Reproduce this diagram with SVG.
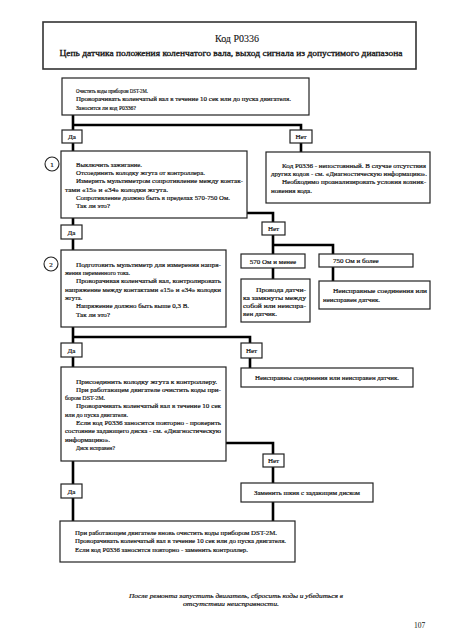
<svg xmlns="http://www.w3.org/2000/svg" width="452" height="640" viewBox="0 0 452 640">
<style>
.box{fill:#fff;stroke:#222;stroke-width:1.2}
.hdr{fill:#fff;stroke:#333;stroke-width:1.6}
.t{font-family:"Liberation Serif","DejaVu Serif",serif;font-size:7px;fill:#111;stroke:#111;stroke-width:0.2}
.m{text-anchor:middle}
.c{stroke:#000;stroke-width:2.6;fill:none}
.cir{fill:#fff;stroke:#222;stroke-width:1.1}
</style>
<rect width="452" height="640" fill="#fff"/>
<g id="connectors">
<path class="c" d="M73,115 V130 M73,125 H301 V130 M73,143 V151 M301,143 V152"/>
<path class="c" d="M73,218 V225 M247,213 H273 V222 M73,239 V250"/>
<path class="c" d="M273,235 V254 M273,245 H333 V254 M273,268 V279 M333,267 V281"/>
<path class="c" d="M73,327 V343 M73,337 H250 V343 M73,357 V367 M250,358 V368"/>
<path class="c" d="M73,461 V484 M73,498 V521 M226,443 H273 V454 M273,467 V483 M273,502 V521"/>
</g>
<g id="header">
<rect class="hdr" x="43" y="22" width="373" height="47"/>
<text class="t m" x="237" y="41.5" style="font-size:10px;stroke-width:0.1" textLength="44" lengthAdjust="spacingAndGlyphs">Код P0336</text>
<text class="t m" x="231" y="56" style="font-size:8.5px;stroke-width:0.3" textLength="343" lengthAdjust="spacingAndGlyphs">Цепь датчика положения коленчатого вала, выход сигнала из допустимого диапазона</text>
</g>
<g id="n1">
<rect class="box" x="62" y="78" width="247" height="37"/>
<text class="t" x="76" y="92.5" textLength="72" lengthAdjust="spacingAndGlyphs">Очистить коды прибором DST-2M.</text>
<text class="t" x="76" y="101" textLength="215" lengthAdjust="spacingAndGlyphs">Проворачивать коленчатый вал в течение 10 сек или до пуска двигателя.</text>
<text class="t" x="76" y="109.5" textLength="60" lengthAdjust="spacingAndGlyphs">Заносится ли код P0336?</text>
</g>
<g id="l1yes"><rect class="box" x="62" y="130" width="20" height="13"/><text class="t m" x="72" y="139">Да</text></g>
<g id="l1no"><rect class="box" x="290" y="130" width="22" height="13"/><text class="t m" x="301" y="139">Нет</text></g>
<g id="n2">
<circle class="cir" cx="52" cy="164" r="7"/>
<text class="t m" x="52" y="166.5">1</text>
<rect class="box" x="61" y="151" width="186" height="67"/>
<text class="t" x="76" y="166.5" textLength="66" lengthAdjust="spacingAndGlyphs">Выключить зажигание.</text>
<text class="t" x="76" y="175" textLength="129" lengthAdjust="spacingAndGlyphs">Отсоединить колодку жгута от контроллера.</text>
<text class="t" x="76" y="183" textLength="167" lengthAdjust="spacingAndGlyphs">Измерить мультиметром сопротивление между контак-</text>
<text class="t" x="65" y="191.5" textLength="103" lengthAdjust="spacingAndGlyphs">тами «15» и «34» колодки жгута.</text>
<text class="t" x="76" y="200" textLength="154" lengthAdjust="spacingAndGlyphs">Сопротивление должно быть в пределах 570-750 Ом.</text>
<text class="t" x="76" y="208" textLength="34" lengthAdjust="spacingAndGlyphs">Так ли это?</text>
</g>
<g id="n3">
<rect class="box" x="266" y="152" width="164" height="51"/>
<text class="t" x="282" y="167.5" textLength="144" lengthAdjust="spacingAndGlyphs">Код P0336 - непостоянный. В случае отсутствия</text>
<text class="t" x="271" y="176" textLength="156" lengthAdjust="spacingAndGlyphs">других кодов - см. «Диагностическую информацию».</text>
<text class="t" x="282" y="184" textLength="144" lengthAdjust="spacingAndGlyphs">Необходимо проанализировать условия возник-</text>
<text class="t" x="271" y="192.5" textLength="41" lengthAdjust="spacingAndGlyphs">новения кода.</text>
</g>
<g id="l2yes"><rect class="box" x="61" y="225" width="21" height="14"/><text class="t m" x="71.5" y="234.5">Да</text></g>
<g id="l2no"><rect class="box" x="262" y="222" width="23" height="13"/><text class="t m" x="273.5" y="231">Нет</text></g>
<g id="l570"><rect class="box" x="241" y="254" width="64" height="14"/><text class="t m" x="273" y="263.5">570 Ом и менее</text></g>
<g id="l750"><rect class="box" x="319" y="254" width="94" height="13"/><text class="t" x="333" y="263">750 Ом и более</text></g>
<g id="n5">
<rect class="box" x="241" y="279" width="69" height="43"/>
<text class="t" x="256" y="291.5" textLength="50" lengthAdjust="spacingAndGlyphs">Провода датчи-</text>
<text class="t" x="243" y="299.5" textLength="63" lengthAdjust="spacingAndGlyphs">ка замкнуты между</text>
<text class="t" x="243" y="307.5" textLength="63" lengthAdjust="spacingAndGlyphs">собой или неиспра-</text>
<text class="t" x="243" y="316" textLength="34" lengthAdjust="spacingAndGlyphs">вен датчик.</text>
</g>
<g id="n6">
<rect class="box" x="319" y="281" width="111" height="28"/>
<text class="t" x="333" y="293" textLength="94" lengthAdjust="spacingAndGlyphs">Неисправные соединения или</text>
<text class="t" x="323" y="301.5" textLength="57" lengthAdjust="spacingAndGlyphs">неисправен датчик.</text>
</g>
<g id="n4">
<circle class="cir" cx="51" cy="264" r="7"/>
<text class="t m" x="51" y="266.5">2</text>
<rect class="box" x="61" y="250" width="165" height="77"/>
<text class="t" x="76" y="266.5" textLength="145" lengthAdjust="spacingAndGlyphs">Подготовить мультиметр для измерения напря-</text>
<text class="t" x="65" y="275" textLength="65" lengthAdjust="spacingAndGlyphs">жения переменного тока.</text>
<text class="t" x="76" y="283" textLength="145" lengthAdjust="spacingAndGlyphs">Проворачивая коленчатый вал, контролировать</text>
<text class="t" x="65" y="291.5" textLength="156" lengthAdjust="spacingAndGlyphs">напряжение между контактами «15» и «34» колодки</text>
<text class="t" x="65" y="300" textLength="17" lengthAdjust="spacingAndGlyphs">жгута.</text>
<text class="t" x="76" y="308" textLength="113" lengthAdjust="spacingAndGlyphs">Напряжение должно быть выше 0,3 В.</text>
<text class="t" x="76" y="316.5" textLength="34" lengthAdjust="spacingAndGlyphs">Так ли это?</text>
</g>
<g id="l3yes"><rect class="box" x="61" y="343" width="21" height="14"/><text class="t m" x="71.5" y="352.5">Да</text></g>
<g id="l3no"><rect class="box" x="241" y="343" width="21" height="15"/><text class="t m" x="251.5" y="352.5">Нет</text></g>
<g id="n7">
<rect class="box" x="241" y="368" width="172" height="19"/>
<text class="t m" x="327" y="380" textLength="144" lengthAdjust="spacingAndGlyphs">Неисправны соединения или неисправен датчик.</text>
</g>
<g id="n8">
<rect class="box" x="61" y="367" width="165" height="94"/>
<text class="t" x="76" y="384" textLength="141" lengthAdjust="spacingAndGlyphs">Присоединить колодку жгута к контроллеру.</text>
<text class="t" x="76" y="392" textLength="145" lengthAdjust="spacingAndGlyphs">При работающем двигателе очистить коды при-</text>
<text class="t" x="65" y="400" textLength="40" lengthAdjust="spacingAndGlyphs">бором DST-2M.</text>
<text class="t" x="76" y="408" textLength="145" lengthAdjust="spacingAndGlyphs">Проворачивать коленчатый вал в течение 10 сек</text>
<text class="t" x="65" y="416.5" textLength="63" lengthAdjust="spacingAndGlyphs">или до пуска двигателя.</text>
<text class="t" x="76" y="425" textLength="145" lengthAdjust="spacingAndGlyphs">Если код P0336 заносится повторно - проверить</text>
<text class="t" x="65" y="433" textLength="156" lengthAdjust="spacingAndGlyphs">состояние задающего диска - см. «Диагностическую</text>
<text class="t" x="65" y="441.5" textLength="45" lengthAdjust="spacingAndGlyphs">информацию».</text>
<text class="t" x="76" y="450" textLength="39" lengthAdjust="spacingAndGlyphs">Диск исправен?</text>
</g>
<g id="l4no"><rect class="box" x="263" y="454" width="21" height="13"/><text class="t m" x="273.5" y="463">Нет</text></g>
<g id="l4yes"><rect class="box" x="61" y="484" width="21" height="14"/><text class="t m" x="71.5" y="493.5">Да</text></g>
<g id="n9">
<rect class="box" x="241" y="483" width="132" height="19"/>
<text class="t m" x="307" y="495" textLength="106" lengthAdjust="spacingAndGlyphs">Заменить шкив с задающим диском</text>
</g>
<g id="n10">
<rect class="box" x="60" y="521" width="235" height="41"/>
<text class="t" x="75" y="535" textLength="202" lengthAdjust="spacingAndGlyphs">При работающем двигателе вновь очистить коды прибором DST-2M.</text>
<text class="t" x="75" y="543" textLength="211" lengthAdjust="spacingAndGlyphs">Проворачивать коленчатый вал в течение 10 сек или до пуска двигателя.</text>
<text class="t" x="75" y="551.5" textLength="173" lengthAdjust="spacingAndGlyphs">Если код P0336 заносится повторно - заменить контроллер.</text>
</g>
<g id="footer">
<text class="t m" x="236" y="597.5" style="font-style:italic" textLength="214" lengthAdjust="spacingAndGlyphs">После ремонта запустить двигатель, сбросить коды и убедиться в</text>
<text class="t m" x="231" y="606" style="font-style:italic" textLength="96" lengthAdjust="spacingAndGlyphs">отсутствии неисправности.</text>
<text class="t" x="414" y="627.5" style="font-size:7.5px;stroke-width:0">107</text>
</g>
</svg>
